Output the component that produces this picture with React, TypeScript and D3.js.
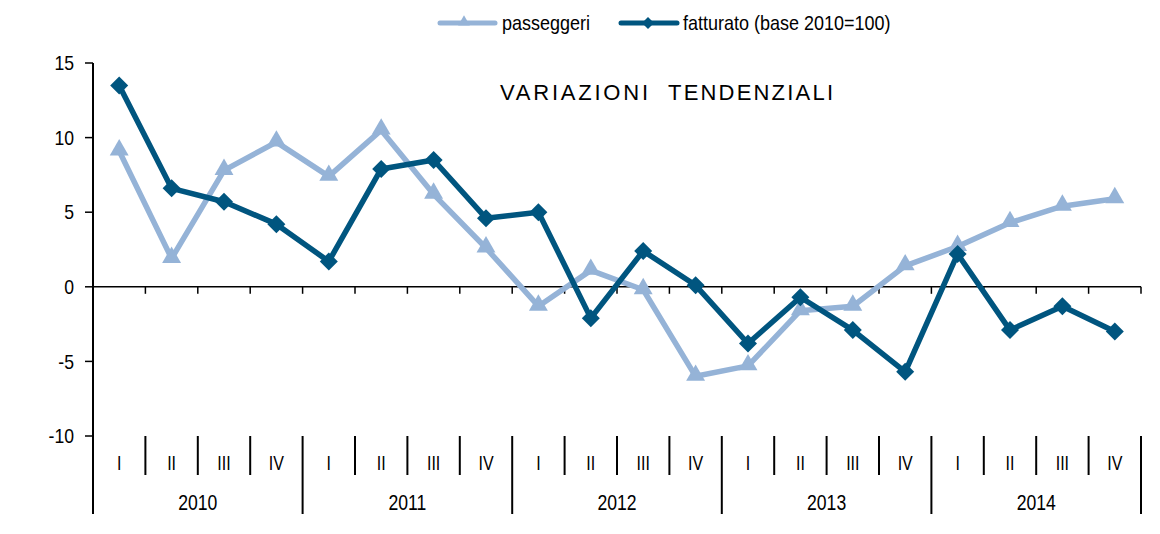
import React from "react";
import * as d3 from "d3";

const years = ["2010", "2011", "2012", "2013", "2014"];
const quarters = ["I", "II", "III", "IV"];
const passeggeri = [9.1, 1.9, 7.8, 9.7, 7.4, 10.5, 6.2, 2.6, -1.3, 1.1, -0.2, -6.0, -5.3, -1.6, -1.3, 1.4, 2.7, 4.3, 5.4, 5.9];
const fatturato = [13.5, 6.6, 5.7, 4.2, 1.7, 7.9, 8.5, 4.6, 5.0, -2.1, 2.4, 0.1, -3.8, -0.7, -2.9, -5.7, 2.2, -2.9, -1.3, -3.0];
const yTicks = [15, 10, 5, 0, -5, -10];

const LIGHT = "#95B3D7";
const DARK = "#00557F";
const FONT = "'Liberation Sans', Arial, sans-serif";

function CText(props: { x: number; y: number; sx: number; size: number; anchor?: string; dy?: string; children: React.ReactNode }) {
  const { x, y, sx, size, anchor = "start", dy = "0", children } = props;
  return (
    <text transform={`translate(${x},${y}) scale(${sx},1)`} textAnchor={anchor as any} dy={dy} fontSize={size} fill="#000">
      {children}
    </text>
  );
}

export default function App() {
  const W = 1160, H = 534;
  const left = 93, right = 1141;
  const keys = years.flatMap((y) => quarters.map((q) => `${y}-${q}`));
  const x = d3.scaleBand<string>().domain(keys).range([left, right]).padding(0);
  const y = d3.scaleLinear().domain([-10, 15]).range([436, 63]);
  const cx = (i: number) => (x(keys[i]) as number) + x.bandwidth() / 2;
  const line = d3.line<number>().x((_, i) => cx(i)).y((d) => y(d));
  const bw = x.bandwidth();
  const y0 = y(0);
  const yBot = y(-10);

  const tri = d3.symbol(d3.symbolTriangle, 155)();
  const dia = (s: number) => `M0,${-s}L${s},0L0,${s}L${-s},0Z`;

  return (
    <svg width={W} height={H} style={{ position: "absolute", left: 0, top: 0, background: "#fff" }} fontFamily={FONT}>
      {/* legend */}
      <g>
        <line x1={440} x2={495} y1={23} y2={23} stroke={LIGHT} strokeWidth={5} strokeLinecap="round" />
        <path d={d3.symbol(d3.symbolTriangle, 60)() as string} transform="translate(464,22)" fill={LIGHT} />
        <CText x={502} y={30} sx={0.9} size={20}>passeggeri</CText>
        <line x1={621} x2={677} y1={23} y2={23} stroke={DARK} strokeWidth={5} strokeLinecap="round" />
        <path d={dia(6)} transform="translate(648,23)" fill={DARK} />
        <CText x={683} y={30} sx={0.9} size={20}>fatturato (base 2010=100)</CText>
      </g>
      {/* title */}
      <text x={500} y={100} fontSize={22} textLength={148} lengthAdjust="spacing" fill="#000">VARIAZIONI</text>
      <text x={668} y={100} fontSize={22} textLength={165} lengthAdjust="spacing" fill="#000">TENDENZIALI</text>

      {/* y axis */}
      <line x1={left} x2={left} y1={y(15)} y2={514} stroke="#000" strokeWidth={2} />
      {yTicks.map((t) => (
        <g key={t}>
          <line x1={left - 8} x2={left} y1={y(t)} y2={y(t)} stroke="#000" strokeWidth={1.5} />
          <CText x={left - 19} y={y(t)} dy="0.36em" anchor="end" sx={0.88} size={20}>{t}</CText>
        </g>
      ))}

      {/* zero axis */}
      <line x1={left} x2={right} y1={y0} y2={y0} stroke="#000" strokeWidth={1.5} />
      {keys.map((k) => (
        <line key={k} x1={(x(k) as number) + bw} x2={(x(k) as number) + bw} y1={y0} y2={y0 + 7} stroke="#000" strokeWidth={1.5} />
      ))}

      {/* category axis */}
      {keys.map((k, i) => {
        const xr = (x(k) as number) + bw;
        const isYear = (i + 1) % 4 === 0;
        return (
          <g key={"c" + k}>
            <line x1={xr} x2={xr} y1={yBot} y2={isYear ? 514 : 475} stroke="#000" strokeWidth={2} />
            <CText x={cx(i)} y={463} dy="0.36em" anchor="middle" sx={0.8} size={20}>{quarters[i % 4]}</CText>
          </g>
        );
      })}
      {years.map((yr) => {
        const x1 = x(`${yr}-I`) as number;
        const x2 = (x(`${yr}-IV`) as number) + bw;
        return (
          <CText key={yr} x={(x1 + x2) / 2} y={502} dy="0.36em" anchor="middle" sx={0.8} size={22}>{yr}</CText>
        );
      })}

      {/* series */}
      <path d={line(passeggeri) as string} fill="none" stroke={LIGHT} strokeWidth={5.5} strokeLinejoin="round" />
      {passeggeri.map((v, i) => (
        <path key={"p" + i} d={tri as string} transform={`translate(${cx(i)},${y(v) - 1})`} fill={LIGHT} />
      ))}
      <path d={line(fatturato) as string} fill="none" stroke={DARK} strokeWidth={5.5} strokeLinejoin="round" />
      {fatturato.map((v, i) => (
        <path key={"f" + i} d={dia(9)} transform={`translate(${cx(i)},${y(v)})`} fill={DARK} />
      ))}
    </svg>
  );
}
